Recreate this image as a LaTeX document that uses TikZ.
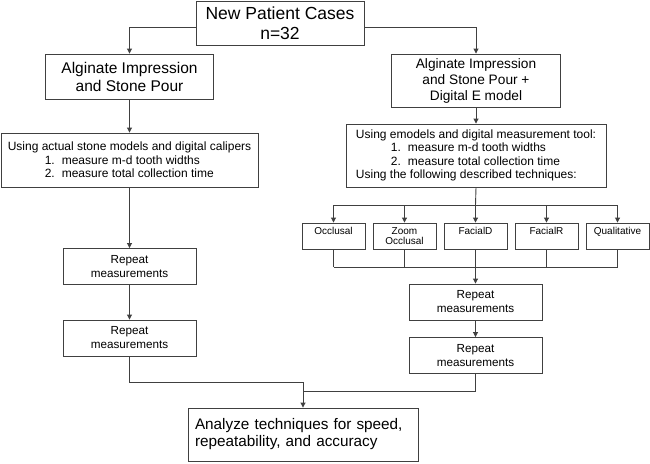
\documentclass[tikz,border=0pt]{standalone}
\usepackage{fontspec}
\setmainfont{Liberation Sans}
\usetikzlibrary{arrows.meta}
\newcommand{\myfs}[2]{\fontsize{#1}{#2}\selectfont}
\begin{document}
\begin{tikzpicture}[x=1pt,y=-1pt,
  box/.style={draw=black!75, line width=0.9pt, inner sep=0pt, align=center, text=black},
  tech/.style={box, minimum width=63pt, minimum height=26pt, font=\myfs{10}{10.7}},
  rep/.style={box, minimum width=133pt, minimum height=36pt, font=\myfs{11.7}{14}},
  con/.style={draw=black!75, line width=0.9pt},
  arr/.style={con, -{Triangle[length=5pt,width=5pt]}}]
\useasboundingbox (0,0) rectangle (650,463);

\node[box, minimum width=168pt, minimum height=44pt, font=\myfs{17.5}{20}] (top) at (280,23) {New Patient Cases\\n=32};

\node[box, minimum width=168pt, minimum height=45pt, font=\myfs{15.5}{18}] (lb1) at (129.5,76.5) {Alginate Impression\\and Stone Pour};
\node[box, minimum width=169pt, minimum height=53pt, font=\myfs{13.7}{16}] (rb1) at (476,80.5) {Alginate Impression\\and Stone Pour +\\Digital E model};

\node[box, minimum width=257pt, minimum height=54pt, align=left, font=\myfs{12}{13.5}] (lb2) at (129.5,160) {Using actual stone models and digital calipers\\\hspace*{37pt}1.\hspace{7pt}measure m-d tooth widths\\\hspace*{37pt}2.\hspace{7pt}measure total collection time};
\node[box, minimum width=260pt, minimum height=63pt, align=left, font=\myfs{12}{13.5}] (rb2) at (476,155.5) {Using emodels and digital measurement tool:\\\hspace*{35pt}1.\hspace{7pt}measure m-d tooth widths\\\hspace*{35pt}2.\hspace{7pt}measure total collection time\\Using the following described techniques:};

\node[tech] (t1) at (333.5,236) {Occlusal\\\mbox{}};
\node[tech] (t2) at (404.5,236) {Zoom\\Occlusal};
\node[tech] (t3) at (475.5,236) {FacialD\\\mbox{}};
\node[tech] (t4) at (546.5,236) {FacialR\\\mbox{}};
\node[tech] (t5) at (617.5,236) {Qualitative\\\mbox{}};

\node[rep] (lr1) at (129.5,266.5) {Repeat\\measurements};
\node[rep] (lr2) at (129.5,338) {Repeat\\measurements};
\node[rep] (rr1) at (475.5,302) {Repeat\\measurements};
\node[rep] (rr2) at (475.5,355.5) {Repeat\\measurements};

\node[box, minimum height=53pt, inner xsep=7pt, text width=216pt, align=left, font=\myfs{15.3}{17}] (fin) at (303,434.5) {Analyze techniques for speed,\\repeatability, and accuracy};

\coordinate (hubT) at (475.5,205);
\coordinate (hubB) at (475.5,267);
\coordinate (j1) at (303,382);
\coordinate (j2) at (303,391);

% top connectors
\draw[arr] ([yshift=-4pt]top.west) -| (lb1.north);
\draw[arr] ([yshift=-4pt]top.east) -| (rb1.north);
\draw[arr] (lb1.south) -- (lb1.south |- lb2.north);
\draw[arr] (rb1.south) -- (rb1.south |- rb2.north);

% left branch
\draw[arr] (lb2.south) -- (lr1.north);
\draw[arr] (lr1.south) -- (lr2.north);

% right branch to techniques
\draw[con] (rb2.south |- rb2.south) -- (hubT);
\draw[con] (t1.north |- hubT) -- (t5.north |- hubT);
\foreach \t in {t1,t2,t3,t4,t5} {
  \draw[arr] (\t.north |- hubT) -- (\t.north);
  \draw[con] (\t.south) -- (\t.south |- hubB);
}
\draw[con] (t1.south |- hubB) -- (t5.south |- hubB);
\draw[arr] (hubB) -- (rr1.north);
\draw[arr] (rr1.south) -- (rr2.north);

% merge to final
\draw[con] (lr2.south) |- (j1);
\draw[con] (rr2.south) |- (j2);
\draw[arr] (j1) -- (fin.north);
\end{tikzpicture}
\end{document}
